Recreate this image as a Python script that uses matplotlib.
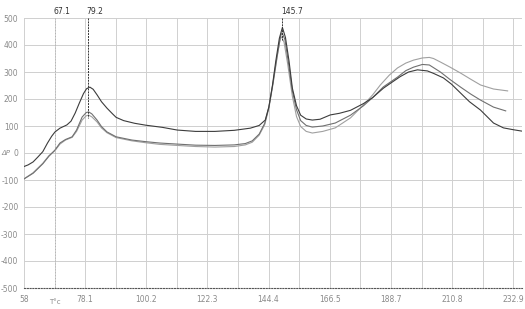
import matplotlib
matplotlib.use("Agg")
import matplotlib.pyplot as plt
from matplotlib.ticker import FixedLocator

# curva oscura
x_oscura = [56, 57.5, 59.3, 61, 62.8, 64.5, 66, 67.2, 69, 71.5, 73, 74.5, 76, 77.5,
            78.6, 79.8, 81, 82.5, 84, 86, 88, 89.3, 92, 96, 100, 106, 111.4, 118,
            125, 132, 137.8, 141, 143.2, 144.5, 145.8, 147, 148.3, 149.4, 150.5,
            151.8, 153, 154.5, 156, 158, 160.2, 163, 166.7, 170, 174, 178.7, 182,
            185.9, 189, 192, 195, 198.2, 201.8, 204, 207.6, 210.5, 213.8, 217, 221,
            225.7, 229.3, 233, 236]
y_oscura = [-50, -44, -33, -15, 5, 37, 62, 78, 92, 104, 118, 148, 185, 220,
            238, 244, 236, 214, 190, 166, 145, 132, 120, 110, 103, 95, 85, 80,
            80, 84, 92, 102, 122, 170, 250, 340, 425, 465, 428,
            340, 240, 175, 140, 126, 122, 125, 141, 147, 158, 183, 205,
            240, 262, 283, 300, 308, 304, 295, 278, 255, 222, 190, 159,
            111, 93, 86, 81]

# curva media
x_media = [56, 59.3, 62.8, 65, 67.2, 69, 71, 73.4, 75, 77, 78.5, 79.4, 80.5, 82.4,
           84, 86, 89.3, 95, 100, 105, 111.4, 118, 125, 132, 136, 138.5, 141, 143,
           144.5, 146, 147.5, 148.8, 149.3, 150.3, 151.5, 153, 154.5, 156, 158,
           160.2, 164, 168.5, 174, 178.7, 182, 185.9, 191, 194, 196.8, 200, 202.5,
           206.5, 210, 213.8, 217.5, 221, 225.7, 230.1]
y_media = [-96, -75, -40, -12, 11, 37, 50, 60, 85, 133, 150, 152, 145, 122,
           98, 78, 60, 48, 42, 37, 33, 29, 28, 30, 35, 45, 70, 110,
           170, 260, 360, 435, 445, 420, 340, 230, 160, 120, 102,
           96, 100, 111, 140, 175, 205, 245, 281, 305, 318, 328, 326,
           300, 272, 244, 218, 196, 170, 156]

# curva clara
x_clara = [56, 59.3, 62.8, 65, 67.2, 69, 71, 73.4, 75, 77, 78.5, 79.4, 80.5, 82.4,
           84, 86, 89.3, 95, 100, 105, 111.4, 118, 125, 132, 136, 138.5, 141, 143,
           144.5, 146, 147.5, 148.6, 149.1, 150, 151.3, 153, 154.5, 156, 158,
           160.2, 164, 168.5, 174, 178.7, 182, 184.8, 188, 191, 194, 196.8, 200,
           202.5, 204, 206.5, 210, 213.8, 217.5, 221, 225.7, 230.8]
y_clara = [-96, -73, -38, -10, 9, 33, 48, 58, 80, 122, 138, 140, 134, 115,
           93, 75, 57, 45, 38, 32, 28, 24, 22, 24, 30, 40, 66, 105,
           165, 255, 355, 425, 430, 410, 330, 210, 135, 98, 80,
           74, 80, 93, 130, 178, 215, 252, 288, 315, 333, 344, 352,
           354, 350, 337, 318, 296, 273, 252, 237, 230]

# ejes
x_ticks = [56, 78.1, 100.2, 122.3, 144.4, 166.5, 188.7, 210.8, 232.9]
x_etiquetas = ["58", "78.1", "100.2", "122.3", "144.4", "166.5", "188.7", "210.8", "232.9"]
y_ticks = [500, 400, 300, 200, 100, 0, -100, -200, -300, -400, -500]

# marcadores verticales: posicion, etiqueta, hasta donde baja
marcas_x = [67.1, 79.2, 149.4]
marcas_txt = ["67.1", "79.2", "145.7"]
marcas_fin = [-500, 130, 420]

fig = plt.figure(figsize=(5.25, 3.09), dpi=100)
ax = fig.add_axes([24 / 525, 1 - 288 / 309, 498 / 525, 270 / 309])

ax.set_xlim(56, 236)
ax.set_ylim(-500, 500)

ax.set_xticks(x_ticks)
ax.set_xticklabels(x_etiquetas)
medios = [(a + b) / 2 for a, b in zip(x_ticks[:-1], x_ticks[1:])]
ax.xaxis.set_minor_locator(FixedLocator(medios))
ax.set_yticks(y_ticks)
ax.set_yticklabels([str(v) for v in y_ticks])

ax.grid(True, which="both", axis="x", color="#d0d0d0", linewidth=0.7)
ax.grid(True, axis="y", color="#cfcfcf", linewidth=0.7)
ax.set_axisbelow(True)

ax.tick_params(axis="both", which="both", length=0, labelsize=5.5, labelcolor="#8a8a8a")
ax.tick_params(axis="x", pad=5)
ax.tick_params(axis="y", pad=4)

for lado in ["top", "right", "left"]:
    ax.spines[lado].set_visible(False)
ax.spines["bottom"].set_linestyle((0, (1, 1.5)))
ax.spines["bottom"].set_color("#555555")
ax.spines["bottom"].set_linewidth(0.8)

ax.plot(x_clara, y_clara, color="#a0a0a0", linewidth=0.8)
ax.plot(x_media, y_media, color="#707070", linewidth=0.8)
ax.plot(x_oscura, y_oscura, color="#3c3c3c", linewidth=0.8)

# lineas de marcadores
ax.plot([marcas_x[0], marcas_x[0]], [500, marcas_fin[0]], color="#b0b0b0",
        linewidth=0.7, linestyle=(0, (1, 2)))
for mx, fin in zip(marcas_x[1:], marcas_fin[1:]):
    ax.plot([mx, mx], [500, fin], color="#333333", linewidth=0.7, linestyle=(0, (2, 1)))

for mx, txt in zip(marcas_x, marcas_txt):
    ax.annotate(txt, xy=(mx, 1), xycoords=("data", "axes fraction"),
                xytext=(-1, 1.5), textcoords="offset points",
                ha="left", va="bottom", fontsize=5.5, color="#333333")

ax.annotate("T°c", xy=(67.1, 0), xycoords=("data", "axes fraction"),
            xytext=(0, -8), textcoords="offset points",
            ha="center", va="top", fontsize=5, color="#8a8a8a")
ax.annotate("ΔP", xy=(0, 0), xycoords=("axes fraction", "data"),
            xytext=(-13, 0), textcoords="offset points",
            ha="center", va="center", fontsize=5, color="#8a8a8a", style="italic")

fig.savefig("out.png", dpi=100)
